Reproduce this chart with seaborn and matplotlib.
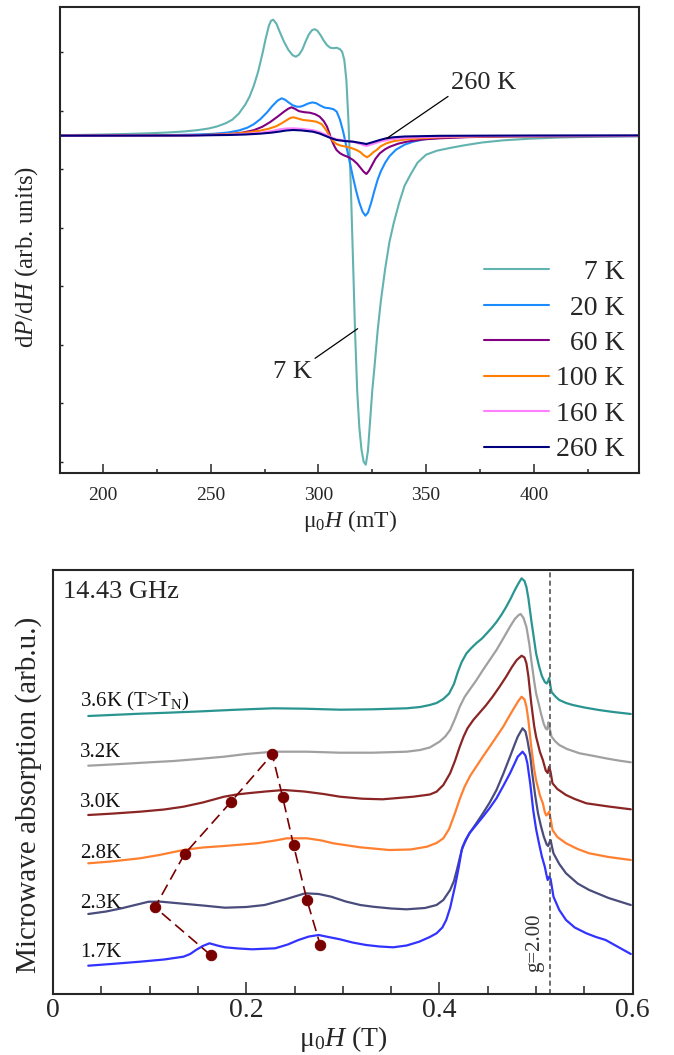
import numpy as np
import pandas as pd
import matplotlib
matplotlib.use('Agg')
import matplotlib.pyplot as plt
from matplotlib.lines import Line2D
from matplotlib.ticker import MultipleLocator, NullFormatter
import seaborn as sns

# ---------------- top panel: dP/dH spectra (field in mT, signal arb.) -------------
temps_top = ['7 K', '20 K', '60 K', '100 K', '160 K', '260 K']
colors_top = ['#63b3b0', '#1a8cff', '#800080', '#ff8000', '#ff80ff', '#00007f']
legend_labels = ['\u2002\u20027 K', '\u200220 K', '\u200260 K', '100 K', '160 K', '260 K']

field_7K = [180, 190, 200, 210, 220, 230, 238, 244, 249, 253, 257, 260, 263, 266, 268, 270, 272,
            274, 275.5, 277, 278, 279, 280.5, 282, 284, 286, 288, 289.5, 291, 292.5, 294, 295.5,
            297, 298.3, 299.5, 301, 302.5, 304, 305.5, 307, 308.5, 310, 311, 312, 313, 314, 315,
            316, 317, 318, 319, 320, 321, 322, 323, 324, 325, 326, 327.5, 329, 331, 333, 335,
            337.5, 340, 343, 346, 350, 355, 361, 368, 376, 386, 398, 412, 430, 449]
sig_7K = [0.5, 0.8, 1.2, 1.7, 2.3, 3.2, 4.3, 5.6, 7.2, 9.3, 12.5, 16, 22, 31, 39, 50, 64,
          82, 97, 110, 115, 116, 112, 104, 94, 86, 80.5, 79, 81, 86, 94, 101,
          105.5, 106.5, 105, 100.5, 95, 90.5, 88, 87.5, 88, 86.5, 84, 76, 55, 12, -48,
          -120, -195, -255, -292, -314, -326, -329, -315, -285, -255, -232, -195, -165, -133, -106, -87,
          -67, -50, -38, -27, -19, -15, -12.3, -9.5, -6.8, -4.6, -3, -1.8, -1, -0.6]

field_20K = [180, 200, 220, 235, 245, 252, 258, 263, 267, 270, 273, 276, 278.5, 281, 282.9, 284.5,
             286, 288, 290, 291.5, 293, 295, 297.2, 299, 301, 303, 305, 307, 308.5, 310, 311.5,
             313, 314.5, 316, 317.5, 319, 320.5, 321.8, 323, 324.5, 326, 327.5, 329, 331, 333,
             336, 340, 344, 350, 360, 375, 400, 449]
sig_20K = [0, 0.2, 0.4, 0.8, 1.3, 2, 3.2, 5.2, 8, 11.5, 16.5, 23, 29.5, 35, 37.4, 36,
           33.5, 30.5, 29, 29, 30, 32, 33.3, 32.5, 30, 28, 27.5, 26.5, 24, 16, 4,
           -11, -26, -41, -55, -67, -76, -80, -77, -67, -55, -44, -35.5, -27, -20.5,
           -14, -9, -6, -3.2, -1.6, -0.9, -0.5, -0.3]

field_60K = [180, 230, 250, 260, 265, 270, 274, 277.5, 281, 284, 286, 287.5, 289, 291, 293.5,
             296, 298.5, 300.6, 302.5, 304, 305, 306.1, 307.3, 308.4, 310, 311.5, 314, 316.1,
             318, 319.5, 321, 322.3, 323.5, 325, 326.5, 328.5, 331, 333.2, 337, 341, 348,
             356.4, 370, 390, 449]
sig_60K = [0, 0.3, 0.8, 1.8, 3.2, 5.5, 9, 13.5, 19, 24, 27, 28.4, 27, 24.5, 23.5,
           23, 21.5, 19, 14.5, 9, 3, -4.3, -10, -14.3, -17.5, -19.3, -21.5, -24.3,
           -28, -32, -36, -38.3, -35, -29, -23, -17.6, -13.5, -11, -8, -6, -3.8,
           -2.6, -1.4, -0.7, -0.3]

field_100K = [180, 240, 255, 263, 268, 272.8, 277, 280.5, 283, 285.2, 287, 288.3, 290, 292.9,
              296, 299.1, 301.5, 303, 304.3, 305.3, 306.8, 308.4, 310.5, 313, 315.5, 317.7,
              319.5, 321, 322.6, 324, 325.5, 327, 329, 331.6, 335, 340.9, 348, 356.4, 375, 449]
sig_100K = [0, 0.4, 1.2, 2.4, 3.5, 5, 7, 9.5, 12.5, 15.5, 17.8, 18.4, 17.5, 15.7,
            15, 14, 11.5, 7.4, 3, -1, -5.5, -8.3, -10, -11, -12.5, -14.3,
            -16.5, -19.5, -21.6, -19.5, -16.5, -14.3, -10.5, -7.6, -5.4, -3.6, -2.5, -1.6, -0.8, -0.2]

field_160K = [180, 240, 258, 266, 272.8, 278, 282.1, 285, 288.3, 292, 297.5, 300.5, 303.7, 306,
              308.4, 312, 316.1, 319.5, 322.3, 325, 328.5, 333, 337.8, 345, 356.4, 380, 449]
sig_160K = [0, 0.3, 1, 1.8, 2.8, 4.5, 6.4, 7.2, 7.4, 6.9, 5.5, 3.6, 0.7, -1.8,
            -3.6, -4.8, -6, -8.3, -10.3, -8.5, -6, -3.8, -2.6, -1.7, -1, -0.4, 0]

field_260K = [180, 240, 258, 266, 272.8, 278, 282.1, 285, 288.3, 292, 297.5, 300.5, 303.7, 306,
              308.4, 312, 316.1, 319.5, 322.3, 325, 328.5, 331.5, 334.7, 340, 356.4, 400, 449]
sig_260K = [0, 0.2, 0.7, 1.2, 2, 3, 4.2, 5.2, 5.7, 5.3, 4, 2.2, -0.6, -2.6,
            -4.3, -5.3, -6, -7.2, -8.3, -6.6, -4.3, -2.6, -1.6, -0.8, -0.1, 0.2, 0.3]

# ---------------- bottom panel: microwave absorption (field in T) ----------------
temps_bot = ['3.6K', '3.2K', '3.0K', '2.8K', '2.3K', '1.7K']
colors_bot = ['#2a9590', '#a0a0a0', '#8b2525', '#ff8030', '#4a4c7c', '#3333ff']
labels_bot = ['3.6K (T>T$_\\mathrm{N}$)', '3.2K', '3.0K', '2.8K', '2.3K', '1.7K']
label_y_bot = [287.3, 236.7, 186.7, 135.7, 85.7, 37.3]

field_36 = [0.0365, 0.06, 0.09, 0.119, 0.15, 0.19, 0.228, 0.26, 0.297, 0.331, 0.366, 0.380, 0.390,
            0.397, 0.404, 0.410, 0.415, 0.419, 0.423, 0.428, 0.433, 0.438, 0.444, 0.449, 0.454,
            0.459, 0.464, 0.469, 0.474, 0.478, 0.482, 0.485, 0.488, 0.490, 0.492, 0.495, 0.498,
            0.500, 0.503, 0.506, 0.509, 0.511, 0.5125, 0.5135, 0.5145, 0.516, 0.520, 0.524,
            0.531, 0.538, 0.550, 0.565, 0.580, 0.598]
abs_36 = [278, 279, 280.3, 281.3, 282.5, 284.3, 285.7, 285.3, 284.3, 284.7, 285.7, 287, 289,
          291, 295, 300.5, 310, 322, 332, 340.7, 346, 350.7, 355.5, 360.7, 366,
          372, 379, 387, 396, 404, 411, 415.7, 413, 407, 396, 374, 354,
          340.7, 328, 318, 312, 310.5, 313, 316, 310, 302, 297.5, 294,
          291, 289, 286.5, 284, 282, 280]

field_32 = [0.0365, 0.07, 0.1, 0.125, 0.15, 0.177, 0.2, 0.228, 0.263, 0.297, 0.331, 0.366, 0.380,
            0.390, 0.400, 0.406, 0.411, 0.416, 0.421, 0.426, 0.431, 0.438, 0.445, 0.452, 0.459,
            0.466, 0.473, 0.478, 0.482, 0.484, 0.487, 0.490, 0.493, 0.495, 0.498, 0.500, 0.503,
            0.505, 0.508, 0.510, 0.5115, 0.5128, 0.514, 0.516, 0.520, 0.524, 0.532, 0.545, 0.560,
            0.572, 0.585, 0.598]
abs_32 = [228.3, 230, 231.7, 233, 235, 237.3, 240, 242.3, 242.3, 241.3, 241.3, 242.3, 244,
          246.5, 252.3, 257.5, 264, 275, 287.3, 297, 304, 313.5, 324, 334, 344,
          355.5, 367.3, 375, 379, 380, 376, 367, 350, 334, 313, 300.7, 289,
          280.7, 270, 265.5, 264.5, 271.7, 266, 257.3, 252.5, 249, 245, 240.7, 238,
          235.7, 233.5, 231.7]

field_30 = [0.0365, 0.06, 0.090, 0.115, 0.135, 0.155, 0.177, 0.19, 0.201, 0.22, 0.239, 0.26, 0.280,
            0.297, 0.320, 0.341, 0.373, 0.390, 0.397, 0.404, 0.411, 0.416, 0.421, 0.425, 0.429,
            0.435, 0.441, 0.448, 0.455, 0.462, 0.469, 0.475, 0.480, 0.485, 0.488, 0.490, 0.492,
            0.495, 0.498, 0.500, 0.504, 0.507, 0.510, 0.512, 0.5135, 0.515, 0.517, 0.522, 0.531,
            0.540, 0.552, 0.575, 0.598]
abs_30 = [179, 180.3, 182.3, 184.5, 187.3, 191.5, 197.3, 199.5, 200.7, 202.5, 204, 202.5, 200,
          197.3, 195.3, 194.7, 197.3, 199.5, 202.3, 209, 220.7, 233, 247.3, 257.5, 265.7,
          274, 280.7, 288.5, 297.3, 307, 317.3, 327, 334, 338.3, 336.5, 330.7, 318,
          290.7, 268, 257.3, 242, 234, 223.5, 221, 227.3, 222, 210.7, 205, 199,
          195, 190.7, 187.5, 184.7]

field_28 = [0.0365, 0.06, 0.090, 0.110, 0.135, 0.155, 0.177, 0.211, 0.230, 0.242, 0.263, 0.278,
            0.290, 0.318, 0.348, 0.370, 0.387, 0.397, 0.404, 0.410, 0.416, 0.421, 0.426, 0.432,
            0.438, 0.445, 0.452, 0.459, 0.466, 0.472, 0.478, 0.482, 0.485, 0.488, 0.490, 0.492,
            0.495, 0.498, 0.500, 0.504, 0.507, 0.509, 0.5105, 0.512, 0.5135, 0.515, 0.517, 0.522,
            0.531, 0.543, 0.555, 0.575, 0.598]
abs_28 = [130.7, 132.5, 135.7, 139, 144, 146.5, 148, 150.7, 153.5, 155.7, 155.7, 153.5,
          150.7, 146.7, 144, 144.5, 147.3, 151, 155.7, 165, 180.7, 195, 207.3, 218.5,
          227.3, 237.5, 247.3, 257.3, 267.3, 277.5, 287.3, 293.5, 297.3, 294.5, 287.3, 274,
          247.3, 225, 214, 198.5, 190.7, 182, 178.5, 180, 182.3, 175.5, 164, 157,
          150.7, 145, 140.7, 137, 134]

field_23 = [0.0365, 0.055, 0.071, 0.085, 0.099, 0.112, 0.130, 0.155, 0.178, 0.200, 0.219, 0.240,
            0.261, 0.275, 0.288, 0.303, 0.318, 0.331, 0.350, 0.366, 0.385, 0.397, 0.404, 0.411,
            0.415, 0.418, 0.421, 0.424, 0.428, 0.431, 0.438, 0.445, 0.452, 0.459, 0.466, 0.473,
            0.478, 0.481, 0.486, 0.489, 0.491, 0.494, 0.496, 0.499, 0.502, 0.505, 0.508, 0.511,
            0.5125, 0.514, 0.515, 0.5165, 0.518, 0.524, 0.531, 0.543, 0.555, 0.575, 0.598]
abs_23 = [80, 82.5, 85.7, 89, 92.3, 92.3, 90.7, 88.5, 86.3, 87, 89, 94.5,
          100.7, 100, 97.3, 92.5, 89, 87.3, 85.5, 84.7, 86, 89, 94, 104,
          113, 124, 136, 147.3, 155, 160.7, 170.5, 180.7, 191.5, 204, 220, 237.3,
          250, 257.3, 265.7, 262.5, 254, 237.5, 220.7, 199, 180.7, 168, 157.3, 149.5,
          148, 152, 154, 147, 140.7, 130, 120.7, 110.5, 104, 96, 89]

field_17 = [0.0365, 0.060, 0.090, 0.115, 0.135, 0.142, 0.148, 0.155, 0.162, 0.170, 0.178, 0.192,
            0.206, 0.230, 0.243, 0.254, 0.265, 0.275, 0.285, 0.297, 0.310, 0.324, 0.338, 0.352,
            0.366, 0.379, 0.390, 0.397, 0.403, 0.407, 0.411, 0.416, 0.420, 0.423, 0.427, 0.431,
            0.438, 0.445, 0.452, 0.459, 0.466, 0.473, 0.478, 0.481, 0.486, 0.489, 0.491, 0.494,
            0.497, 0.500, 0.503, 0.506, 0.509, 0.511, 0.512, 0.5135, 0.515, 0.518, 0.524, 0.531,
            0.540, 0.552, 0.562, 0.572, 0.585, 0.598]
abs_17 = [28.3, 30, 32.3, 34.5, 37.3, 40, 44, 48, 50.7, 48.5, 46.7, 45.5,
          44.7, 45.7, 49.5, 54, 57.5, 59, 57, 54.7, 51.5, 49, 47.5, 46.7,
          48.5, 52.3, 57, 60.7, 66.5, 74, 86, 107.3, 127, 144, 154, 160.7,
          169, 177.3, 186, 195.7, 208, 220.7, 231, 237.3, 242.3, 238.5, 230.7, 210,
          184, 165, 150.7, 137.5, 127.3, 118, 114, 117.3, 115, 97.3, 84, 74,
          66.5, 60.7, 57, 54, 47, 40]

# resonance-peak markers (1.7K -> 3.2K on the low side, then back down on the high side)
peak_field = [0.1631, 0.1055, 0.1362, 0.1838, 0.2269, 0.2376, 0.2490, 0.2628, 0.2766]
peak_abs = [39, 86.7, 140, 191.7, 239.7, 197.3, 148.7, 94, 49]

g_field = 0.514

# ---------------- build long-form tables ----------------
top_fields = [field_7K, field_20K, field_60K, field_100K, field_160K, field_260K]
top_sigs = [sig_7K, sig_20K, sig_60K, sig_100K, sig_160K, sig_260K]
df_top = pd.concat([pd.DataFrame({'field': f, 'signal': s, 'T': t})
                    for f, s, t in zip(top_fields, top_sigs, temps_top)], ignore_index=True)

bot_fields = [field_36, field_32, field_30, field_28, field_23, field_17]
bot_abs = [abs_36, abs_32, abs_30, abs_28, abs_23, abs_17]
df_bot = pd.concat([pd.DataFrame({'field': f, 'absorption': a, 'T': t})
                    for f, a, t in zip(bot_fields, bot_abs, temps_bot)], ignore_index=True)

# ---------------- style ----------------
sns.set_style('ticks')
plt.rcParams['font.family'] = ['Liberation Serif', 'DejaVu Serif']
plt.rcParams['mathtext.fontset'] = 'custom'
plt.rcParams['mathtext.rm'] = 'Liberation Serif'
plt.rcParams['mathtext.it'] = 'Liberation Serif:italic'
plt.rcParams['mathtext.bf'] = 'Liberation Serif:bold'
plt.rcParams['axes.linewidth'] = 1.5
plt.rcParams['lines.solid_joinstyle'] = 'round'

fig = plt.figure(figsize=(6.74, 10.55), dpi=100)
W, H = 674.0, 1055.0
ax1 = fig.add_axes([60 / W, (H - 473.3) / H, 579.3 / W, 466.6 / H])
ax2 = fig.add_axes([53 / W, (H - 994) / H, 579.7 / W, 424 / H])

# ---------------- top panel ----------------
sns.lineplot(data=df_top, x='field', y='signal', hue='T', hue_order=temps_top,
             palette=colors_top, estimator=None, sort=False, lw=1.5, legend=False, ax=ax1)
ax1.set_xlim(180, 449)
ax1.set_ylim(-337.6, 129)
ax1.xaxis.set_major_locator(MultipleLocator(50))
ax1.xaxis.set_minor_locator(MultipleLocator(25))
ax1.yaxis.set_major_locator(MultipleLocator(58.5, offset=24.8))
ax1.yaxis.set_major_formatter(NullFormatter())
ax1.tick_params(axis='x', which='major', direction='in', length=6.5, width=1.1, labelsize=14, pad=10)
ax1.tick_params(axis='x', which='minor', direction='in', length=3, width=1.1)
ax1.tick_params(axis='y', which='major', direction='in', length=2.5, width=1.0)
ax1.set_xlabel(r'$\mathrm{\mu}_\mathrm{0}\mathit{H}$ (mT)', fontsize=17)
ax1.xaxis.set_label_coords(0.5, -0.075)
ax1.set_ylabel(r'd$\mathit{P}$/d$\mathit{H}$ (arb. units)', fontsize=18)
ax1.yaxis.set_label_coords(-0.035, 0.463)
for sp in ax1.spines.values():
    sp.set_linewidth(1.5)

handles = [Line2D([], [], color=c, lw=1.5) for c in colors_top]
ax1.legend(handles, legend_labels, loc='lower right', bbox_to_anchor=(0.9753, 0.0236),
           frameon=False, fontsize=20, handlelength=2.37, handletextpad=0.25,
           labelspacing=0.36, borderpad=0, borderaxespad=0)

arrow = dict(arrowstyle='-', color='k', lw=0.9, shrinkA=0, shrinkB=0)
ax1.annotate('260 K', xy=(331.7, -2.75), xytext=(361.7, 46.5), textcoords='data',
             fontsize=19, ha='left', va='baseline', arrowprops=dict(arrow, relpos=(0, 0)))
ax1.annotate('7 K', xy=(318.2, -193), xytext=(278.8, -241.9), textcoords='data',
             fontsize=19, ha='left', va='baseline', arrowprops=dict(arrow, relpos=(1, 1)))

# ---------------- bottom panel ----------------
sns.lineplot(data=df_bot, x='field', y='absorption', hue='T', hue_order=temps_bot,
             palette=colors_bot, estimator=None, sort=False, lw=1.6, legend=False, ax=ax2)
sns.lineplot(x=peak_field, y=peak_abs, sort=False, estimator=None, color='#7a0000',
             lw=1.2, linestyle=(0, (7, 3.5)), marker='o', markersize=7.5,
             markeredgecolor='#7a0000', ax=ax2)
ax2.axvline(g_field, color='#555555', lw=1.2, linestyle=(0, (3, 2)))
ax2.text(g_field - 0.0154, 51, 'g=2.00', rotation=90, ha='center', va='center',
         fontsize=15, color='#333333')
for lab, yb in zip(labels_bot, label_y_bot):
    ax2.text(0.028, yb, lab, fontsize=15, ha='left', va='baseline', color='#111111')
ax2.text(0.0107, 402, '14.43 GHz', fontsize=19, ha='left', va='center')

ax2.set_xlim(0, 0.6)
ax2.set_ylim(0, 424)
ax2.xaxis.set_minor_locator(MultipleLocator(0.05))
ax2.set_xticks([0, 0.2, 0.4, 0.6])
ax2.set_xticklabels(['0', '0.2', '0.4', '0.6'])
ax2.set_yticks([])
ax2.tick_params(axis='x', which='major', direction='in', length=9, width=1.1, labelsize=20, pad=3)
ax2.tick_params(axis='x', which='minor', direction='in', length=5.5, width=1.1)
ax2.set_xlabel(r'$\mathrm{\mu}_\mathrm{0}\mathit{H}$ (T)', fontsize=20)
ax2.xaxis.set_label_coords(0.5, -0.071)
ax2.set_ylabel('Microwave absorption (arb.u.)', fontsize=21)
ax2.yaxis.set_label_coords(-0.019, 0.469)
for sp in ax2.spines.values():
    sp.set_linewidth(1.5)

fig.savefig('out.png', dpi=100)
